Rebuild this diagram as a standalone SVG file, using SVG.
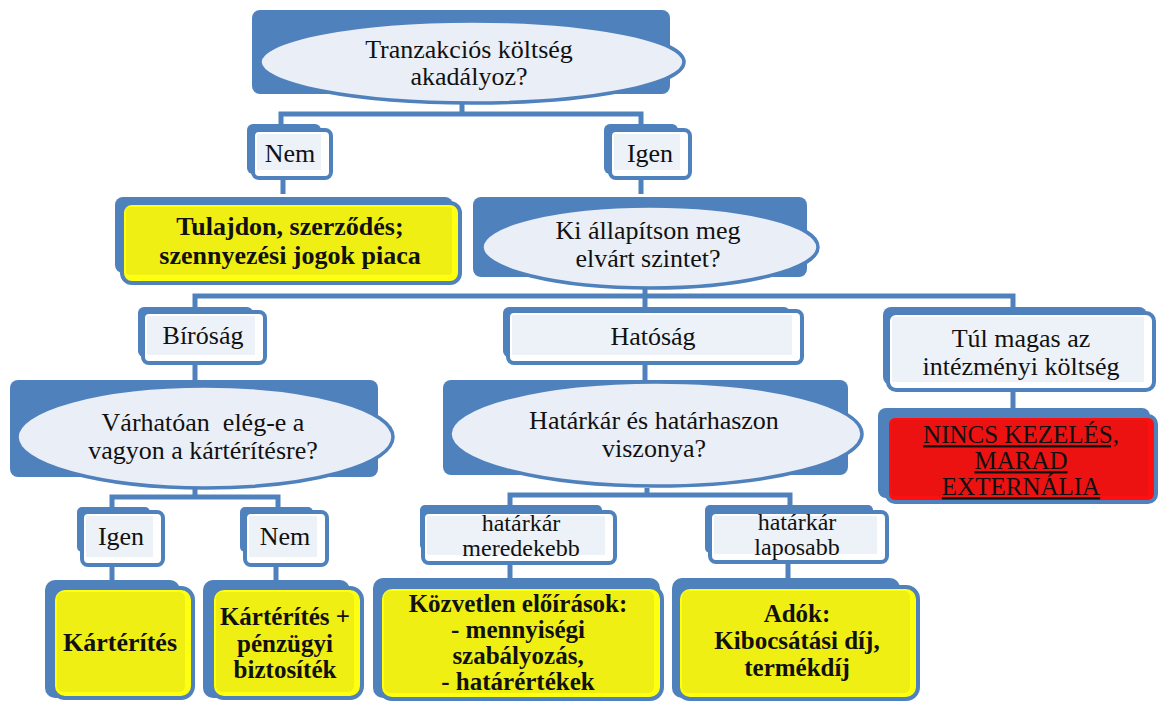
<svg xmlns="http://www.w3.org/2000/svg" width="1158" height="702" viewBox="0 0 1158 702">
<style>
.back{fill:#4F81BD}
.fr{stroke:#4F81BD;stroke-width:4}
.w{fill:#FFFFFF}
.wi{fill:#EDF2F9}
.y{fill:#FFFF10}
.yi{fill:#EFEF14}
.r{fill:#FF1010}
.ri{fill:#EC1212}
.ell{fill:#E9EEF7;stroke:#4F81BD;stroke-width:3.5}
.conn{stroke:#4F81BD;stroke-width:5;fill:none}
text{font-family:"Liberation Serif","Times New Roman",serif;font-size:26px;text-anchor:middle;fill:#111111}
.b{font-weight:bold}
.u{text-decoration:underline;font-size:25px}
.s{font-size:24px}
.m{font-size:25px}
</style>
<rect width="1158" height="702" fill="#FFFFFF"/>
<g id="connectors">
<path class="conn" d="M462,103 V114 M281,124 V114 H641 V124"/>
<path class="conn" d="M283,178 V194 M641,178 V194"/>
<path class="conn" d="M645,288 V296 M195,307 V296 H1013 V307 M645,296 V307"/>
<path class="conn" d="M195,363 V381 M645,363 V381 M1013,390 V409"/>
<path class="conn" d="M195,488 V497 M112,507 V497 H278 V507"/>
<path class="conn" d="M647,488 V495 M510,505 V495 H790 V505"/>
<path class="conn" d="M112,565 V581 M276,565 V581 M510,563 V579 M788,562 V579"/>
</g>
<g id="n-tranzakcio">
<rect class="back" x="252" y="10" width="418" height="84" rx="8"/>
<ellipse class="ell" cx="472" cy="62" rx="212" ry="41"/>
<text x="469" y="58">Tranzakciós költség</text>
<text x="469" y="85">akadályoz?</text>
</g>
<g id="n-nem1">
<rect class="back" x="247" y="124" width="74" height="50" rx="6"/>
<rect class="w fr" x="253" y="130" width="78" height="48" rx="6"/>
<rect class="wi" x="257" y="134" width="64" height="36"/>
<text x="290" y="162">Nem</text>
</g>
<g id="n-igen1">
<rect class="back" x="604" y="124" width="74" height="50" rx="6"/>
<rect class="w fr" x="610" y="130" width="80" height="48" rx="6"/>
<rect class="wi" x="614" y="134" width="66" height="36"/>
<text x="650" y="162">Igen</text>
</g>
<g id="n-tulajdon">
<rect class="back" x="115" y="197" width="338" height="76" rx="8"/>
<rect class="y fr" x="122" y="203" width="338" height="80" rx="10"/>
<rect class="yi" x="126" y="207" width="326" height="68" rx="4"/>
<text class="b" x="290" y="235">Tulajdon, szerződés;</text>
<text class="b" x="290" y="264">szennyezési jogok piaca</text>
</g>
<g id="n-ki">
<rect class="back" x="473" y="197" width="334" height="80" rx="8"/>
<ellipse class="ell" cx="650" cy="247" rx="168" ry="41"/>
<text x="648" y="239">Ki állapítson meg</text>
<text x="648" y="267">elvárt szintet?</text>
</g>
<g id="n-birosag">
<rect class="back" x="138" y="307" width="115" height="50" rx="6"/>
<rect class="w fr" x="143" y="312" width="122" height="51" rx="6"/>
<rect class="wi" x="147" y="316" width="108" height="39"/>
<text x="203" y="344">Bíróság</text>
</g>
<g id="n-hatosag">
<rect class="back" x="503" y="307" width="287" height="50" rx="6"/>
<rect class="w fr" x="508" y="311" width="294" height="52" rx="6"/>
<rect class="wi" x="512" y="315" width="280" height="40"/>
<text x="653" y="345">Hatóság</text>
</g>
<g id="n-tulmagas">
<rect class="back" x="883" y="307" width="264" height="78" rx="8"/>
<rect class="w fr" x="888" y="313" width="266" height="77" rx="8"/>
<rect class="wi" x="892" y="317" width="252" height="65"/>
<text x="1021" y="347">Túl magas az</text>
<text x="1021" y="375">intézményi költség</text>
</g>
<g id="n-nincs">
<rect class="back" x="878" y="408" width="272" height="90" rx="8"/>
<rect class="r fr" x="887" y="416" width="269" height="86" rx="8"/>
<rect class="ri" x="891" y="420" width="257" height="76" rx="4"/>
<text class="u" x="1021" y="443">NINCS KEZELÉS,</text>
<text class="u" x="1021" y="469">MARAD</text>
<text class="u" x="1021" y="495">EXTERNÁLIA</text>
</g>
<g id="n-varhatoan">
<rect class="back" x="10" y="380" width="368" height="97" rx="8"/>
<ellipse class="ell" cx="205" cy="437" rx="188" ry="51"/>
<text x="203" y="431" xml:space="preserve">Várhatóan  elég-e a</text>
<text x="203" y="459">vagyon a kártérítésre?</text>
</g>
<g id="n-hatarkar">
<rect class="back" x="443" y="380" width="405" height="95" rx="8"/>
<ellipse class="ell" cx="656" cy="434" rx="206" ry="52"/>
<text x="654" y="429">Határkár és határhaszon</text>
<text x="654" y="457">viszonya?</text>
</g>
<g id="n-igen2">
<rect class="back" x="77" y="507" width="73" height="45" rx="5"/>
<rect class="w fr" x="82" y="512" width="81" height="53" rx="6"/>
<rect class="wi" x="86" y="516" width="67" height="41"/>
<text x="121" y="545">Igen</text>
</g>
<g id="n-nem2">
<rect class="back" x="240" y="507" width="73" height="45" rx="5"/>
<rect class="w fr" x="245" y="512" width="82" height="53" rx="6"/>
<rect class="wi" x="249" y="516" width="68" height="41"/>
<text x="285" y="545">Nem</text>
</g>
<g id="n-meredekebb">
<rect class="back" x="420" y="505" width="182" height="45" rx="5"/>
<rect class="w fr" x="423" y="512" width="192" height="51" rx="6"/>
<rect class="wi" x="427" y="516" width="178" height="39"/>
<text class="s" x="521" y="531">határkár</text>
<text class="s" x="521" y="556">meredekebb</text>
</g>
<g id="n-laposabb">
<rect class="back" x="705" y="505" width="168" height="48" rx="5"/>
<rect class="w fr" x="710" y="512" width="177" height="50" rx="6"/>
<rect class="wi" x="714" y="516" width="163" height="38"/>
<text class="s" x="797" y="530">határkár</text>
<text class="s" x="797" y="555">laposabb</text>
</g>
<g id="n-karterites">
<rect class="back" x="45" y="580" width="135" height="118" rx="10"/>
<rect class="y fr" x="53" y="588" width="140" height="110" rx="12"/>
<rect class="yi" x="57" y="592" width="128" height="100" rx="6"/>
<text class="b" x="120" y="651">Kártérítés</text>
</g>
<g id="n-karterites2">
<rect class="back" x="203" y="580" width="147" height="118" rx="10"/>
<rect class="y fr" x="212" y="588" width="150" height="110" rx="12"/>
<rect class="yi" x="216" y="592" width="138" height="100" rx="6"/>
<text class="b m" x="285" y="625">Kártérítés +</text>
<text class="b m" x="285" y="652">pénzügyi</text>
<text class="b m" x="285" y="678">biztosíték</text>
</g>
<g id="n-kozvetlen">
<rect class="back" x="373" y="578" width="287" height="120" rx="10"/>
<rect class="y fr" x="380" y="587" width="282" height="112" rx="12"/>
<rect class="yi" x="384" y="591" width="270" height="102" rx="6"/>
<text class="b m" x="518" y="612">Közvetlen előírások:</text>
<text class="b m" x="518" y="638">- mennyiségi</text>
<text class="b m" x="518" y="664">szabályozás,</text>
<text class="b m" x="518" y="690">- határértékek</text>
</g>
<g id="n-adok">
<rect class="back" x="672" y="578" width="228" height="120" rx="10"/>
<rect class="y fr" x="678" y="587" width="240" height="112" rx="12"/>
<rect class="yi" x="682" y="591" width="228" height="102" rx="6"/>
<text class="b m" x="797" y="622">Adók:</text>
<text class="b m" x="797" y="649">Kibocsátási díj,</text>
<text class="b m" x="797" y="676">termékdíj</text>
</g>
</svg>
